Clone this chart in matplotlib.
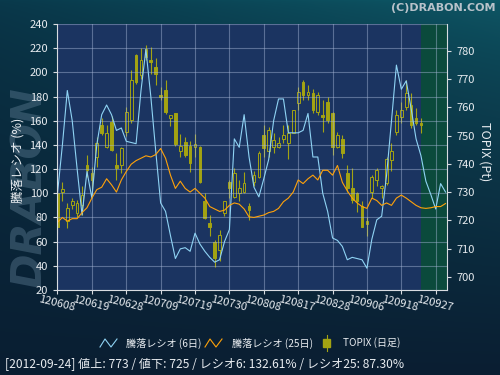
import numpy as np
import matplotlib
matplotlib.use("Agg")
import matplotlib.pyplot as plt
from matplotlib.lines import Line2D
from matplotlib.patches import Rectangle

plt.rcParams['font.family'] = ['Noto Sans CJK JP', 'DejaVu Sans']

# x軸 (営業日 7日ごとの目盛り)
tick_labels = ["120608", "120619", "120628", "120709", "120719", "120730",
               "120808", "120817", "120828", "120906", "120918", "120927"]

# 騰落レシオ (6日) / (25日)  -- 画像から読み取り
ratio6 = [100, 140, 185, 160, 120, 82, 118, 96, 140, 165,
          173, 165, 152, 154, 143, 142, 141, 185, 219, 180,
          135, 92, 85, 65, 46, 54, 55, 52, 67, 58,
          52, 47, 43, 45, 60, 70, 145, 138, 165, 130,
          105, 97, 112, 128, 160, 178, 178, 150, 150, 150,
          152, 166, 130, 130, 100, 85, 63, 61, 56, 45,
          47, 46, 45, 38, 62, 78, 81, 115, 160, 206,
          186, 193, 170, 145, 131, 110, 99, 87, 108, 101]
ratio25 = [76, 80, 77, 79, 79, 84, 88, 96, 103, 105,
           112, 107, 101, 111, 118, 124, 127, 129, 131, 130,
           132, 137, 129, 115, 104, 110, 104, 101, 104, 100,
           96, 89, 87, 85, 86, 90, 92, 91, 87, 80.5,
           80, 81, 82, 84, 85, 87.5, 93, 96, 101, 111,
           108, 112, 115, 111, 119, 119, 115, 123, 109, 102,
           96, 92, 89, 87.5, 96, 94, 90, 92, 90, 96,
           98.5, 96, 93, 90, 88, 87.5, 88, 89, 89, 91.5]

# TOPIX 日足 (始値, 高値, 安値, 終値)
topix_open = [729.6, 730.1, 719.6, 725.5, 722.6, 725.5, 739.5, 736.7, 742.6, 753.8,
              746.0, 755.0, 739.6, 739.6, 751.4, 755.6, 778.6, 771.5, 780.6, 777.0,
              774.4, 764.4, 766.2, 756.2, 758.0, 744.7, 747.7, 746.4, 745.9, 746.0,
              726.7, 719.0, 712.3, 709.6, 722.5, 733.7, 728.4, 729.6, 730.2, 725.0,
              733.7, 735.5, 750.3, 744.4, 746.1, 746.1, 749.0, 747.3, 750.9, 761.5,
              769.0, 764.4, 765.0, 758.5, 757.3, 762.0, 758.0, 746.1, 749.0, 736.7,
              731.5, 729.6, 725.0, 719.6, 730.2, 734.3, 731.4, 733.2, 741.4, 751.4,
              756.7, 760.3, 760.9, 756.2, 754.6]
topix_high = [731.0, 733.7, 726.0, 728.0, 727.3, 732.0, 743.2, 739.0, 749.7, 756.2,
              753.8, 757.0, 743.8, 746.0, 760.0, 773.3, 779.0, 781.0, 782.0, 781.5,
              777.5, 767.4, 769.7, 757.5, 758.2, 750.6, 749.7, 748.0, 750.6, 746.4,
              729.6, 722.0, 713.0, 716.6, 727.0, 734.3, 738.5, 734.3, 737.3, 726.0,
              737.5, 744.5, 753.8, 753.0, 750.9, 749.7, 753.8, 753.8, 759.1, 767.3,
              769.7, 768.0, 766.5, 765.6, 762.7, 763.8, 758.5, 751.4, 750.3, 739.5,
              738.5, 730.2, 726.7, 721.3, 736.0, 738.5, 732.5, 742.5, 747.5, 759.1,
              762.0, 769.7, 765.0, 759.7, 756.2]
topix_low = [715.0, 727.0, 717.3, 724.0, 721.0, 722.0, 735.5, 731.0, 739.0, 750.3,
             745.5, 744.5, 734.3, 736.8, 750.0, 754.4, 768.5, 770.0, 777.0, 772.0,
             768.0, 762.7, 757.7, 753.5, 746.4, 742.6, 742.6, 737.0, 742.6, 733.2,
             720.5, 714.3, 703.6, 705.4, 721.6, 727.9, 727.9, 726.7, 729.6, 720.0,
             732.0, 735.0, 742.6, 742.6, 744.0, 745.5, 747.3, 741.8, 750.9, 759.0,
             762.7, 762.7, 758.0, 757.5, 751.4, 754.4, 743.2, 745.5, 742.0, 730.0,
             726.0, 723.1, 717.8, 714.3, 728.0, 732.0, 728.0, 732.5, 737.5, 750.3,
             754.4, 759.1, 752.6, 753.8, 750.9]
topix_close = [717.8, 731.2, 724.4, 726.7, 726.0, 729.0, 738.0, 734.3, 747.3, 750.9,
               751.0, 745.0, 738.5, 745.6, 758.5, 769.7, 769.1, 777.0, 778.0, 776.2,
               771.8, 763.6, 758.5, 757.3, 747.1, 746.4, 743.2, 740.3, 747.0, 733.7,
               720.8, 717.8, 706.6, 714.9, 726.7, 731.4, 736.7, 731.4, 733.2, 723.7,
               736.0, 743.9, 745.5, 752.0, 748.5, 747.3, 750.3, 750.9, 759.0, 765.6,
               764.4, 765.6, 759.1, 764.4, 756.7, 755.6, 746.1, 750.3, 743.8, 731.4,
               727.3, 726.7, 717.8, 718.7, 735.5, 737.9, 732.0, 741.6, 744.4, 757.3,
               759.1, 765.0, 753.8, 754.4, 753.8]

status = "[2012-09-24] 値上: 773 / 値下: 725 / レシオ6: 132.61% / レシオ25: 87.30%"

plot_bg = '#1b3461'
candle_c = '#a3a312'
txt_c = '#e8ecf0'

fig = plt.figure(figsize=(5, 3.75), dpi=100)

# 背景のグラデーション
bg = fig.add_axes([0, 0, 1, 1], zorder=-10)
yy, xx = np.mgrid[0:1:375j, 0:1:500j]
top = np.array([9, 58, 76]) * (1 - xx[..., None]) + np.array([14, 90, 104]) * xx[..., None]
bottom = np.array([10, 30, 50])
t = (yy ** 0.6)[..., None]
grad = (top * (1 - t) + bottom * t) / 255
bg.imshow(grad, extent=[0, 1, 0, 1], aspect='auto')
bg.axis('off')

# 透かし
fig.text(0.06, 0.5, 'DRABON', rotation=90, fontsize=30, fontweight='bold',
         style='italic', color='#5a7a90', alpha=0.45, ha='center', va='center',
         family='DejaVu Sans', zorder=-5)

ax = fig.add_axes([0.114, 0.2267, 0.78, 0.7093])
ax2 = ax.twinx()
ax.set_zorder(ax2.get_zorder() + 1)
ax.patch.set_visible(False)
ax2.patch.set_visible(True)
ax2.patch.set_facecolor(plot_bg)

n = len(topix_close)
xd = np.arange(n)
ax2.axvspan(n - 1, 80, color='#0b4a3c', zorder=0, lw=0)

# ローソク足
o = np.array(topix_open)
c = np.array(topix_close)
up = c >= o
ax2.vlines(xd, topix_low, topix_high, color=candle_c, lw=0.8, zorder=2)
body_lo = np.minimum(o, c)
body_h = np.maximum(np.abs(c - o), 0.4)
ax2.bar(xd[~up], body_h[~up], bottom=body_lo[~up], width=0.55,
        color=candle_c, edgecolor=candle_c, lw=0.7, zorder=3)
ax2.bar(xd[up], body_h[up], bottom=body_lo[up], width=0.55,
        color=plot_bg, edgecolor=candle_c, lw=0.7, zorder=3)

# 騰落レシオ
xr = np.arange(len(ratio6))
ax.plot(xr, ratio6, color='#8fd3f4', lw=0.8)
ax.plot(xr, ratio25, color='#ffa20a', lw=0.8)

ax.set_xlim(-0.1, 79.3)
ax.set_ylim(20, 240)
ax2.set_ylim(695.3, 789.6)
ax.set_yticks(range(20, 241, 20))
ax2.set_yticks(range(700, 781, 10))
ax.set_xticks(range(0, 78, 7))
ax.set_xticklabels(tick_labels, rotation=-14, rotation_mode='anchor',
                   ha='center', va='top')
ax.grid(True, color='#a8b8d8', alpha=0.45, lw=0.8)

ax.tick_params(colors='#d8dce0', labelcolor=txt_c, labelsize=8, length=3, width=0.8)
ax.tick_params(axis='x', pad=3)
ax2.tick_params(colors='#d8dce0', labelcolor=txt_c, labelsize=8, length=3, width=0.8)
for s in ['top', 'right']:
    ax.spines[s].set_visible(False)
for s in ['top', 'left', 'bottom']:
    ax2.spines[s].set_visible(False)
ax.spines['left'].set_color('#d8dce0')
ax.spines['bottom'].set_color('#d8dce0')
ax2.spines['right'].set_color('#d8dce0')

fig.text(18 / 500, 1 - 160 / 375, '騰落レシオ (%)', rotation=90, fontsize=9,
         color=txt_c, ha='center', va='center')
fig.text(485 / 500, 1 - 152 / 375, 'TOPIX (Pt)', rotation=-90, fontsize=9,
         color=txt_c, ha='center', va='center')
fig.text(496 / 500, 1 - 8 / 375, '(C)DRABON.COM', fontsize=8, fontweight='bold',
         color='#b8c2ca', ha='right', va='center', family='DejaVu Sans')

# 凡例
ly = 1 - 343 / 375
fig.add_artist(Line2D(np.array([100, 105, 111, 117]) / 500,
                      ly + np.array([-4, 4, -4, 4]) / 375,
                      color='#8fd3f4', lw=0.8))
fig.text(126 / 500, ly, '騰落レシオ (6日)', fontsize=7.3, color=txt_c, va='center')
fig.add_artist(Line2D(np.array([205, 210, 216, 222]) / 500,
                      ly + np.array([-4, 4, -4, 4]) / 375,
                      color='#ffa20a', lw=0.8))
fig.text(232 / 500, ly, '騰落レシオ (25日)', fontsize=7.3, color=txt_c, va='center')
fig.add_artist(Line2D([326.5 / 500] * 2, [ly - 8 / 375, ly + 8 / 375],
                      color=candle_c, lw=0.8))
fig.add_artist(Rectangle((323 / 500, ly - 4 / 375), 7 / 500, 8 / 375,
                         facecolor=candle_c, edgecolor=candle_c))
fig.text(343 / 500, ly, 'TOPIX (日足)', fontsize=7.2, color=txt_c, va='center')

fig.text(5 / 500, 1 - 365 / 375, status, fontsize=8.7, color=txt_c, va='center')

fig.savefig('out.png', dpi=100)
